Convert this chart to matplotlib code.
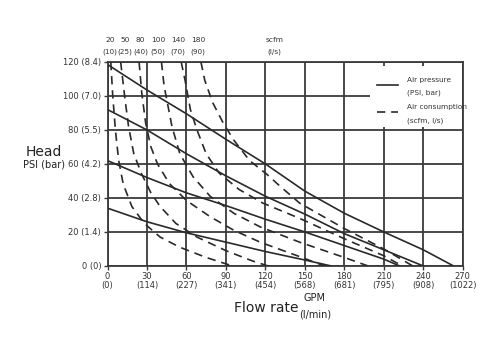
import matplotlib
matplotlib.use("Agg")
import matplotlib.pyplot as plt
from matplotlib.patches import Rectangle

# ---- data ----
gpm_ticks = [0, 30, 60, 90, 120, 150, 180, 210, 240, 270]
gpm_labels = ["0", "30", "60", "90", "120", "150", "180", "210", "240", "270"]
lpm_labels = ["(0)", "(114)", "(227)", "(341)", "(454)", "(568)", "(681)", "(795)", "(908)", "(1022)"]
psi_ticks = [0, 20, 40, 60, 80, 100, 120]
psi_labels = ["0 (0)", "20 (1.4)", "40 (2.8)", "60 (4.2)", "80 (5.5)", "100 (7.0)", "120 (8.4)"]
scfm_labels = ["20", "50", "80", "100", "140", "180"]
ls_labels = ["(10)", "(25)", "(40)", "(50)", "(70)", "(90)"]
scfm_pos = [2, 13.5, 25, 38.5, 53.5, 69]

# air pressure curves (solid): GPM, PSI
p1_x = [0, 30, 60, 90, 120, 150, 180, 210, 240, 263]
p1_y = [118.5, 103.5, 89.5, 74.5, 60, 44, 31, 20, 9.5, 0]
p2_x = [0, 30, 60, 90, 120, 150, 180, 210, 240]
p2_y = [92, 80, 66, 53, 41, 30.5, 19, 9.5, 0]
p3_x = [0, 30, 60, 90, 120, 150, 180, 210, 222]
p3_y = [62, 52, 43, 35.5, 27.5, 20, 12, 4, 0]
p4_x = [0, 30, 60, 90, 120, 150, 170]
p4_y = [34, 26, 19.5, 14, 8.5, 3.5, 0]

# air consumption curves (dashed)
d1_x = [2.5, 4, 6, 8.5, 12, 18.5, 28, 40, 55, 75, 95]
d1_y = [120, 100, 80, 62, 48, 35, 25, 17, 11, 5, 0]
d2_x = [10, 13, 16, 20, 26, 33, 40, 52, 68, 90, 110, 122]
d2_y = [120, 100, 82, 66, 54, 43, 35, 25, 17, 9, 3, 0]
d3_x = [24, 26, 29, 33, 38, 47, 60, 78, 96, 116, 146, 165]
d3_y = [120, 102, 84, 70, 60, 48.5, 38.5, 29, 21, 14, 5.5, 0]
d4_x = [41, 43, 46, 49, 55, 65, 78, 96, 116, 146, 180, 198]
d4_y = [120, 106, 94, 82, 66, 52.5, 41, 31, 23, 14, 5, 0]
d5_x = [56, 59, 63, 68, 75, 85, 100, 118, 146, 180, 210, 224]
d5_y = [120, 109, 92, 80, 66, 54.5, 45, 37, 28, 16, 6, 0]
d6_x = [71, 74, 80, 88, 96, 108, 121, 131, 146, 180, 210, 232]
d6_y = [120, 109, 96, 84, 74, 62, 54, 47, 37, 22, 10, 0]

solid = [(p1_x, p1_y), (p2_x, p2_y), (p3_x, p3_y), (p4_x, p4_y)]
dashed = [(d1_x, d1_y), (d2_x, d2_y), (d3_x, d3_y), (d4_x, d4_y), (d5_x, d5_y), (d6_x, d6_y)]

# ---- figure ----
ink = "#2a2a2a"
grid_c = "#3a3a3a"
txt_c = "#333333"
dash_pat = (5, 3.5)
fig = plt.figure(figsize=(5, 3.57), dpi=100)
ax = fig.add_axes([0.215, 0.255, 0.7105, 0.5715])
ax.set_xlim(0, 270)
ax.set_ylim(0, 120)

for x in gpm_ticks:
    ax.axvline(x, color=grid_c, lw=1.3, zorder=1)
for y in psi_ticks:
    ax.axhline(y, color=grid_c, lw=1.3, zorder=1)
for s in ax.spines.values():
    s.set_color(grid_c)
    s.set_linewidth(1.3)

for xs, ys in solid:
    ax.plot(xs, ys, color=ink, lw=1.2, zorder=3)
for xs, ys in dashed:
    ax.plot(xs, ys, color=ink, lw=1.2, dashes=dash_pat, zorder=3)

ax.set_xticks(gpm_ticks)
ax.set_xticklabels(gpm_labels, fontsize=6, color=txt_c)
ax.set_yticks(psi_ticks)
ax.set_yticklabels(psi_labels, fontsize=6, color=txt_c)
ax.tick_params(axis="both", length=3, width=1, color=grid_c, pad=1.5)

tx = ax.get_xaxis_transform()
for x, lab in zip(gpm_ticks, lpm_labels):
    ax.text(x, -0.095, lab, transform=tx, ha="center", va="center", fontsize=6, color=txt_c)
for x, a, b in zip(scfm_pos, scfm_labels, ls_labels):
    ax.text(x, 1.108, a, transform=tx, ha="center", va="center", fontsize=5.4, color=txt_c)
    ax.text(x, 1.05, b, transform=tx, ha="center", va="center", fontsize=5.2, color=txt_c)
ax.text(127, 1.108, "scfm", transform=tx, ha="center", va="center", fontsize=5.4, color=txt_c)
ax.text(127, 1.05, "(l/s)", transform=tx, ha="center", va="center", fontsize=5.2, color=txt_c)

fig.text(0.088, 0.574, "Head", ha="center", va="center", fontsize=10, color="#222")
fig.text(0.088, 0.538, "PSI (bar)", ha="center", va="center", fontsize=7, color="#222")
fig.text(0.532, 0.138, "Flow rate", ha="center", va="center", fontsize=10, color="#222")
fig.text(0.63, 0.165, "GPM", ha="center", va="center", fontsize=7, color="#222")
fig.text(0.63, 0.118, "(l/min)", ha="center", va="center", fontsize=7, color="#222")

# legend (drawn in axes coordinates)
ta = ax.transAxes
ax.add_patch(Rectangle((0.739, 0.681), 0.258, 0.297, transform=ta,
                       facecolor="white", edgecolor="none", zorder=4))
ax.plot([0.759, 0.818], [0.887, 0.887], transform=ta, color=ink, lw=1.2, zorder=5)
ax.plot([0.759, 0.818], [0.756, 0.756], transform=ta, color=ink, lw=1.2,
        dashes=dash_pat, zorder=5)
for yy, s in [(0.912, "Air pressure"), (0.848, "(PSI, bar)"),
              (0.779, "Air consumption"), (0.711, "(scfm, l/s)")]:
    ax.text(0.843, yy, s, transform=ta, ha="left", va="center", fontsize=5.3,
            color=txt_c, zorder=6)

fig.savefig("out.png", dpi=100, facecolor="white")
